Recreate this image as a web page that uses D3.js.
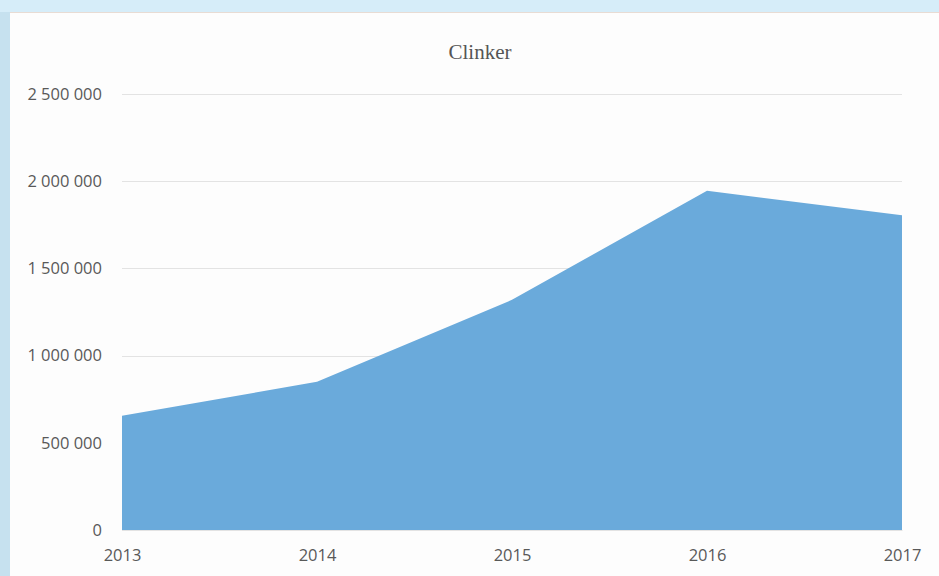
<!DOCTYPE html>
<html>
<head>
<meta charset="utf-8">
<script src="https://cdn.jsdelivr.net/npm/d3@7/dist/d3.min.js"></script>
<style>
  html, body { margin: 0; padding: 0; background: #d6edf9; }
  svg { display: block; }
</style>
</head>
<body>
<svg id="chart" width="939" height="576"></svg>
<script>
// Clinker output by year
const years = ["2013", "2014", "2015", "2016", "2017"];
const clinker = [655000, 850000, 1320000, 1945000, 1805000];
const yTicks = [0, 500000, 1000000, 1500000, 2000000, 2500000];

const svg = d3.select("#chart");
const W = 939, H = 576;

// page backdrop: light blue header strip and side border around the white panel
svg.append("rect").attr("x", 0).attr("y", 0).attr("width", W).attr("height", H).attr("fill", "#d6edf9");
svg.append("rect").attr("x", 0).attr("y", 12).attr("width", 10).attr("height", H - 12).attr("fill", "#c6e1ef");
svg.append("rect").attr("x", 10).attr("y", 12).attr("width", W - 10).attr("height", H - 12).attr("fill", "#fdfdfd");
svg.append("line").attr("x1", 10).attr("x2", W).attr("y1", 12.5).attr("y2", 12.5)
  .attr("stroke", "#e8dcd4").attr("stroke-width", 1);

const margin = { left: 122, right: 37, top: 94, bottom: 46 };
const x = d3.scalePoint().domain(years).range([margin.left, W - margin.right]);
const y = d3.scaleLinear().domain([0, 2500000]).range([H - margin.bottom, margin.top]);

const fmt = v => d3.format(",")(v).replace(/,/g, " ");

// horizontal gridlines
svg.append("g").selectAll("line").data(yTicks).join("line")
  .attr("x1", margin.left).attr("x2", W - margin.right)
  .attr("y1", d => Math.round(y(d)) + 0.5).attr("y2", d => Math.round(y(d)) + 0.5)
  .attr("stroke", "#e3e3e3").attr("stroke-width", 1);

// filled area
const area = d3.area()
  .x((d, i) => x(years[i]))
  .y0(y(0))
  .y1(d => y(d));
svg.append("path").datum(clinker).attr("d", area).attr("fill", "#6aaadb");

// y axis labels
const yAxis = d3.axisLeft(y).tickValues(yTicks).tickFormat(d => d === 0 ? "0" : fmt(d)).tickSize(0).tickPadding(20);
const gy = svg.append("g").attr("transform", `translate(${margin.left},0)`).call(yAxis);
gy.select(".domain").remove();
gy.selectAll("text").attr("font-family", "'Open Sans', sans-serif").attr("font-size", 16.5).attr("fill", "#595959");

// x axis labels
const xAxis = d3.axisBottom(x).tickSize(0).tickPadding(19);
const gx = svg.append("g").attr("transform", `translate(0,${y(0)})`).call(xAxis);
gx.select(".domain").attr("stroke", "#e3e3e3");
gx.selectAll("text").attr("font-family", "'Open Sans', sans-serif").attr("font-size", 16.5).attr("fill", "#595959");

// title
svg.append("text").attr("x", 480).attr("y", 59).attr("text-anchor", "middle")
  .attr("font-family", "'Liberation Serif', 'DejaVu Serif', serif").attr("font-size", 21)
  .attr("fill", "#555").text("Clinker");
</script>
</body>
</html>
